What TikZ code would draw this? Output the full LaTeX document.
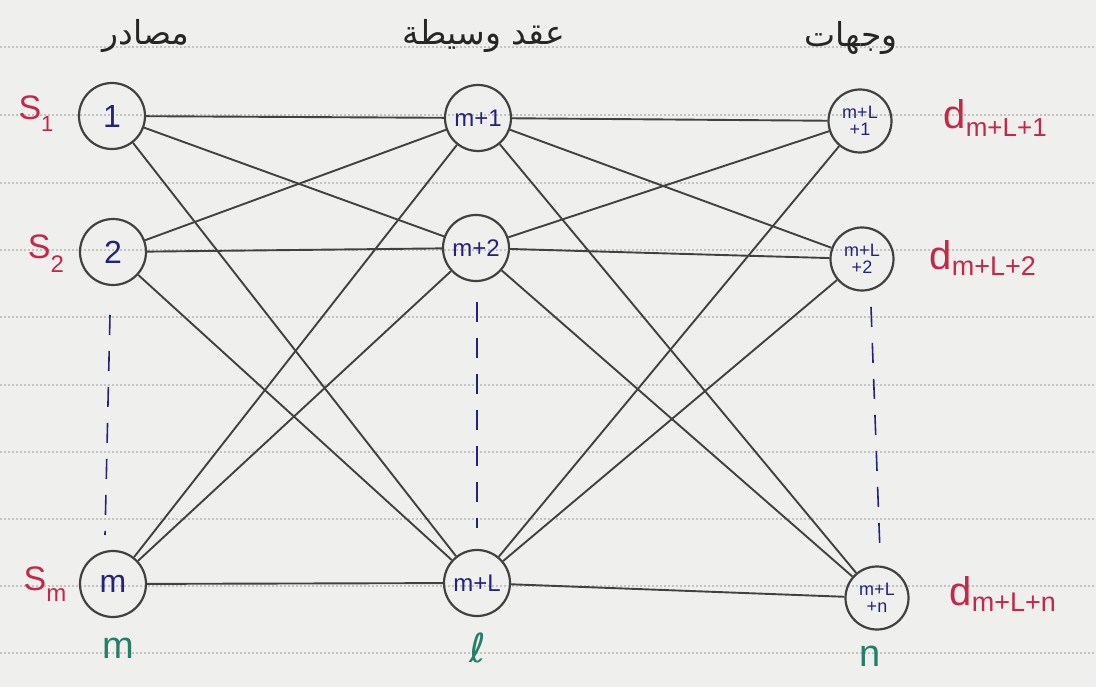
\documentclass[tikz,border=0pt]{standalone}
\usepackage{fontspec}
\setmainfont{Liberation Sans}
\newfontfamily\arabicfont[Script=Arabic]{DejaVu Sans}
\newfontfamily\symfont{DejaVu Sans}
\TeXXeTstate=1
\definecolor{paper}{RGB}{239,239,237}
\definecolor{ruling}{RGB}{195,195,195}
\definecolor{ink}{RGB}{65,65,65}
\definecolor{blueink}{RGB}{35,35,125}
\definecolor{redink}{RGB}{196,40,72}
\definecolor{greenink}{RGB}{40,125,105}
\tikzset{
  vertex/.style={circle, draw=ink, line width=2.2pt, minimum size=66pt, inner sep=0pt,
    text=blueink, align=center},
  bigtxt/.style={font=\fontsize{32}{34}\selectfont},
  midtxt/.style={font=\fontsize{24}{26}\selectfont},
  smalltxt/.style={font=\fontsize{18}{17}\selectfont},
  link/.style={draw=ink, line width=1.9pt},
  dotrule/.style={draw=ruling, line width=1.2pt, dash pattern=on 2pt off 2pt},
  gap/.style={draw=blueink, line width=1.6pt, dash pattern=on 20pt off 16pt},
  srclabel/.style={text=redink, font=\fontsize{34}{36}\selectfont},
  dstlabel/.style={text=redink, font=\fontsize{40}{42}\selectfont, anchor=west},
  countlabel/.style={text=greenink, font=\fontsize{38}{40}\selectfont},
  heading/.style={text=black!85, font=\arabicfont\fontsize{33}{35}\selectfont}
}
\begin{document}
\begin{tikzpicture}[x=1pt, y=-1pt]
  % ruled sheet
  \fill[paper] (0,0) rectangle (1096,687);
  \useasboundingbox (0,0) rectangle (1096,687);
  \foreach \yy in {47,115,183,250,317,385,452,519,586,653}
    \draw[dotrule] (0,\yy) -- (1096,\yy);

  % column headings
  \node[heading] (hsrc) at (146,36) {\beginR مصادر\endR};
  \node[heading] (hmid) at (484,36) {\beginR عقد وسيطة\endR};
  \node[heading] (hdst) at (851,38) {\beginR وجهات\endR};

  % sources
  \node[vertex, bigtxt] (s1) at (112,116) {1};
  \node[vertex, bigtxt] (s2) at (113,252) {2};
  \node[vertex, bigtxt] (sm) at (113,584) {m};

  % intermediate nodes
  \node[vertex, midtxt] (r1) at (478,118) {m+1};
  \node[vertex, midtxt] (r2) at (476,248) {m+2};
  \node[vertex, midtxt] (rl) at (477,583) {m+L};

  % destinations
  \node[vertex, smalltxt, minimum size=63pt] (d1) at (860,121) {m+L\\+1};
  \node[vertex, smalltxt, minimum size=63pt] (d2) at (862,259) {m+L\\+2};
  \node[vertex, smalltxt, minimum size=63pt] (dn) at (877,598) {m+L\\+n};

  % source and destination labels
  \node[srclabel] (ls1) at (36,114) {S\raisebox{-12pt}{\fontsize{22}{22}\selectfont 1}};
  \node[srclabel] (ls2) at (46,254) {S\raisebox{-14pt}{\fontsize{24}{24}\selectfont 2}};
  \node[srclabel] (lsm) at (45,584) {S\raisebox{-11pt}{\fontsize{24}{24}\selectfont m}};
  \node[dstlabel] (ld1) at (940,118) {d\raisebox{-8pt}{\fontsize{26}{26}\selectfont m+L+1}};
  \node[dstlabel] (ld2) at (926,258) {d\raisebox{-6pt}{\fontsize{27}{27}\selectfont m+L+2}};
  \node[dstlabel] (ldn) at (946,594) {d\raisebox{-6pt}{\fontsize{27}{27}\selectfont m+L+n}};

  % layer sizes
  \node[countlabel] (cm) at (118,648) {m};
  \node[countlabel, font=\symfont\fontsize{40}{42}\selectfont] (cl) at (478,648) {ℓ};
  \node[countlabel] (cn) at (870,656) {n};

  % elided rows
  \coordinate (g1a) at (110,315); \coordinate (g1b) at (105,535);
  \coordinate (g2a) at (477,302); \coordinate (g2b) at (477,528);
  \coordinate (g3a) at (871,307); \coordinate (g3b) at (880,552);
  \draw[gap] (g1a) -- (g1b);
  \draw[gap] (g2a) -- (g2b);
  \draw[gap] (g3a) -- (g3b);

  % full connections between layers
  \foreach \a in {s1,s2,sm}
    \foreach \b in {r1,r2,rl}
      \draw[link] (\a) -- (\b);
  \foreach \a in {r1,r2,rl}
    \foreach \b in {d1,d2,dn}
      \draw[link] (\a) -- (\b);
\end{tikzpicture}
\end{document}
